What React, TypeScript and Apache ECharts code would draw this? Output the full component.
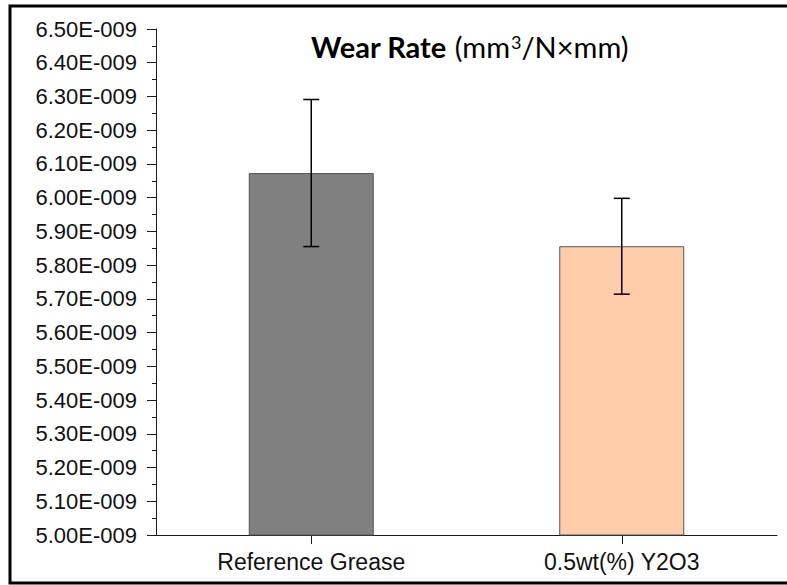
import React, { useEffect, useRef } from "react";
import * as echarts from "echarts";

// Wear rate per lubricant, in units of 1E-009 mm³/N×mm
const categories = ["Reference Grease", "0.5wt(%) Y2O3"];
const wearRate = [6.073, 5.856];
const wearRateError = [0.218, 0.142];
const barColors = ["#808080", "#FFCCA9"];

const Y_MIN = 5.0;
const Y_MAX = 6.5;
const Y_STEP = 0.1;

export default function App() {
  const ref = useRef<HTMLDivElement>(null);

  useEffect(() => {
    if (!ref.current) return;
    const chart = echarts.init(ref.current, undefined, { renderer: "svg" });

    const errorData = wearRate.map((v, i) => [i, v - wearRateError[i], v + wearRateError[i]]);
    const axisColor = "#1a1a1a";
    const labelFont = "'Liberation Sans', Arial, sans-serif";
    const titleFont = "Lato, sans-serif";

    chart.setOption({
      animation: false,
      backgroundColor: "#ffffff",
      grid: { left: 156, right: 10, top: 29, bottom: 50, containLabel: false },
      title: {
        left: 306,
        top: 27,
        text: "{b|Wear Rate} {n|(mm}{s|3}{m|/N×mm)}",
        textStyle: {
          rich: {
            b: { fontFamily: titleFont, fontWeight: "bold", fontSize: 29, color: "#000" },
            n: { fontFamily: titleFont, fontWeight: "normal", fontSize: 29, color: "#000", padding: [0, 0, 0, 3] },
            s: { fontFamily: titleFont, fontWeight: "normal", fontSize: 18, color: "#000", verticalAlign: "top", padding: [1, 0, 0, 1] },
            m: { fontFamily: titleFont, fontWeight: "normal", fontSize: 29, color: "#000" },
          },
        },
      },
      xAxis: {
        type: "category",
        data: categories,
        axisLine: { show: true, lineStyle: { color: axisColor, width: 1 } },
        axisTick: { show: true, alignWithLabel: true, length: 9, lineStyle: { color: axisColor } },
        axisLabel: { margin: 15, fontSize: 23, fontFamily: labelFont, color: "#111" },
        splitLine: { show: false },
      },
      yAxis: {
        type: "value",
        min: Y_MIN,
        max: Y_MAX,
        interval: Y_STEP,
        axisLine: { show: true, lineStyle: { color: axisColor, width: 1 } },
        axisTick: { show: true, inside: false, length: 9, lineStyle: { color: axisColor } },
        minorTick: { show: true, splitNumber: 2, length: 4, lineStyle: { color: axisColor } },
        splitLine: { show: false },
        axisLabel: {
          margin: 19,
          fontSize: 22,
          fontFamily: labelFont,
          color: "#111",
          formatter: (v: number) => v.toFixed(2) + "E-009",
        },
      },
      series: [
        {
          type: "bar",
          barWidth: 125,
          data: wearRate.map((v, i) => ({
            value: v,
            itemStyle: { color: barColors[i], borderColor: "#555555", borderWidth: 1 },
          })),
        },
        {
          type: "custom",
          data: errorData,
          z: 10,
          renderItem: (params: any, api: any) => {
            const x = api.value(0);
            const lo = api.coord([x, api.value(1)]);
            const hi = api.coord([x, api.value(2)]);
            const half = 8;
            const style = { stroke: "#000", lineWidth: 1.5 };
            return {
              type: "group",
              children: [
                { type: "line", shape: { x1: lo[0], y1: lo[1], x2: hi[0], y2: hi[1] }, style },
                { type: "line", shape: { x1: hi[0] - half, y1: hi[1], x2: hi[0] + half, y2: hi[1] }, style },
                { type: "line", shape: { x1: lo[0] - half, y1: lo[1], x2: lo[0] + half, y2: lo[1] }, style },
              ],
            };
          },
        },
      ],
      graphic: [
        {
          type: "rect",
          shape: { x: 10, y: 6, width: 790, height: 577 },
          style: { fill: "none", stroke: "#000", lineWidth: 3 },
          silent: true,
        },
      ],
    });

    return () => chart.dispose();
  }, []);

  return (
    <div
      ref={ref}
      style={{ position: "fixed", left: 0, top: 0, width: 787, height: 585, background: "#fff" }}
    />
  );
}
